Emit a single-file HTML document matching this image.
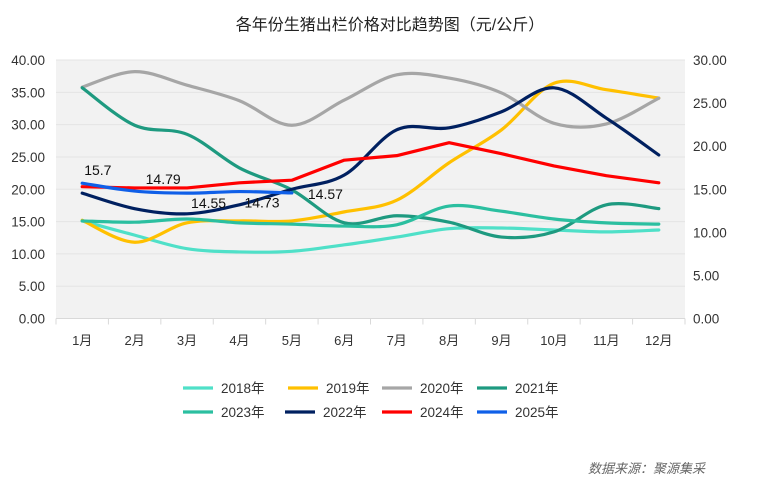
<!DOCTYPE html>
<html><head><meta charset="utf-8">
<style>
body{margin:0;background:#fff;}
svg{display:block;font-family:"Liberation Sans","Noto Sans CJK SC",sans-serif;}
</style></head>
<body>
<svg id="chart" width="780" height="485">
<text x="390" y="30" text-anchor="middle" font-size="16" fill="#222">各年份生猪出栏价格对比趋势图（元/公斤）</text>
<rect x="56" y="60" width="629" height="258.5" fill="#f2f2f2"/>
<g id="grid"></g><g id="axes"></g><g id="series"></g><g id="labels"></g><g id="legend"></g>
<text x="588" y="473" font-size="13" font-style="italic" fill="#666">数据来源：聚源集采</text>
</svg>
<script>
const months=["1月","2月","3月","4月","5月","6月","7月","8月","9月","10月","11月","12月"];
const leftTicks=["0.00","5.00","10.00","15.00","20.00","25.00","30.00","35.00","40.00"];
const rightTicks=["0.00","5.00","10.00","15.00","20.00","25.00","30.00"];
const s2018=[15.1,12.9,10.8,10.3,10.4,11.4,12.6,13.9,14.0,13.7,13.4,13.7];
const s2019=[15.2,11.8,14.8,15.1,15.1,16.5,18.3,24.1,29.2,36.4,35.4,34.1];
const s2020=[35.8,38.2,36.1,33.7,29.9,33.8,37.7,37.2,34.9,30.2,30.1,34.1];
const s2021=[35.7,29.9,28.5,23.3,19.9,14.8,15.9,14.9,12.6,13.4,17.6,17.0];
const s2023=[15.1,14.9,15.4,14.8,14.6,14.3,14.5,17.4,16.6,15.4,14.8,14.6];
const s2022=[19.4,17.0,16.2,17.6,20.0,22.2,29.2,29.5,32.0,35.7,31.0,25.3];
const s2024=[20.4,20.2,20.2,21.0,21.4,24.5,25.2,27.2,25.5,23.6,22.1,21.0];
const s2025=[15.7,14.79,14.55,14.73,14.57];
const ns="http://www.w3.org/2000/svg";
const X0=56,X1=685,Y0=318.5,Y1=60;
const bw=(X1-X0)/months.length;
const xs=i=>X0+bw*(i+0.5);
const yL=v=>Y0-(v/40)*(Y0-Y1);
const yR=v=>Y0-(v/30)*(Y0-Y1);
function mk(tag,attrs,parent){const e=document.createElementNS(ns,tag);for(const k in attrs)e.setAttribute(k,attrs[k]);document.getElementById(parent).appendChild(e);return e;}
leftTicks.forEach((t,i)=>{const v=parseFloat(t),y=yL(v);
 if(v>0){const g=mk('line',{x1:X0,x2:X1,y1:y,y2:y,stroke:'#e4e4e4','stroke-width':1},'grid');
 
 }
 const tx=mk('text',{x:45,y:y+5,'text-anchor':'end','font-size':13.5,fill:'#333'},'axes');tx.textContent=t;
 
 });
rightTicks.forEach(t=>{const y=yR(parseFloat(t));
 const tx=mk('text',{x:693,y:y+5,'font-size':13.5,fill:'#333'},'axes');tx.textContent=t;
 
 });
const ax=mk('line',{x1:X0,x2:X1,y1:Y0,y2:Y0,stroke:'#d9d9d9'},'axes');


months.forEach((m,i)=>{const x=X0+bw*i;
 const tk=mk('line',{x1:x,x2:x,y1:Y0,y2:Y0+6,stroke:'#d9d9d9'},'axes');
 
 
 const tx=mk('text',{x:xs(i),y:345,'text-anchor':'middle','font-size':13,fill:'#333'},'axes');tx.textContent=m;
 
 });
mk('line',{x1:X1,x2:X1,y1:Y0,y2:Y0+6,stroke:'#d9d9d9'},'axes');
function smooth(p){let d=`M${p[0][0]},${p[0][1]}`;for(let i=0;i<p.length-1;i++){const a=p[i-1]||p[i],b=p[i],c=p[i+1],e=p[i+2]||c;
 d+=` C${b[0]+(c[0]-a[0])/6},${b[1]+(c[1]-a[1])/6} ${c[0]-(e[0]-b[0])/6},${c[1]-(e[1]-b[1])/6} ${c[0]},${c[1]}`;}return d;}
function straight(p){return 'M'+p.map(q=>q.join(',')).join(' L');}
const series=[
 {n:'2018年',d:s2018,c:'#4fe0c8',ax:yL,sm:true,key:'2018'},
 {n:'2019年',d:s2019,c:'#ffc000',ax:yL,sm:true,key:'2019'},
 {n:'2020年',d:s2020,c:'#a6a6a6',ax:yL,sm:true,key:'2020'},
 {n:'2021年',d:s2021,c:'#1e9a80',ax:yL,sm:true,key:'2021'},
 {n:'2023年',d:s2023,c:'#2bbfa0',ax:yL,sm:true,key:'2023'},
 {n:'2022年',d:s2022,c:'#002060',ax:yL,sm:true,key:'2022'},
 {n:'2024年',d:s2024,c:'#ff0000',ax:yL,sm:false,key:'2024'},
 {n:'2025年',d:s2025,c:'#0f5fe8',ax:yR,sm:true,key:'2025'}];
series.forEach(s=>{const p=s.d.map((v,i)=>[xs(i),s.ax(v)]);
 const e=mk('path',{d:s.sm?smooth(p):straight(p),fill:'none',stroke:s.c,'stroke-width':3.2,'stroke-linejoin':'round','stroke-linecap':'round'},'series');
 
 });
const lblOff=[[2,-8],[11,-7],[4,15],[5,16],[16,6]];
s2025.forEach((v,i)=>{const t=mk('text',{x:xs(i)+lblOff[i][0],y:yR(v)+lblOff[i][1],'font-size':14,fill:'#111'},'labels');
 t.textContent=String(v);
 
 });
const legPos=[[183,388],[288,388],[382,388],[477,388],[183,412],[285,412],[382,412],[477,412]];
series.forEach((s,i)=>{const [x,y]=legPos[i];
 const l=mk('line',{x1:x,x2:x+30,y1:y,y2:y,stroke:s.c,'stroke-width':3.2},'legend');
 
 
 const t=mk('text',{x:x+38,y:y+5,'font-size':13.5,fill:'#333'},'legend');t.textContent=s.n;
 
 });
</script>
</body></html>
